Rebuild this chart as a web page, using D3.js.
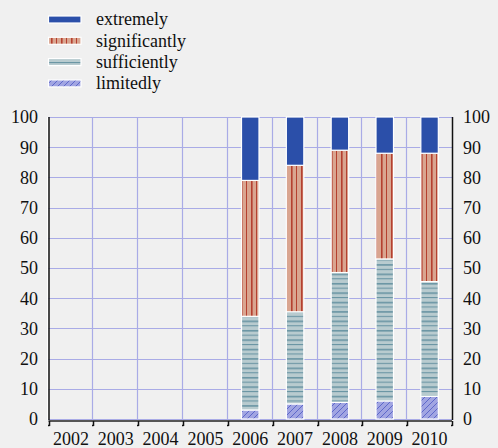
<!DOCTYPE html>
<html><head><meta charset="utf-8">
<script src="https://cdn.jsdelivr.net/npm/d3@7/dist/d3.min.js"></script>
<style>
html,body{margin:0;padding:0;background:#f0f0f0;}
</style></head>
<body><svg id="c" width="498" height="448"></svg>
<script>
const years = ["2002","2003","2004","2005","2006","2007","2008","2009","2010"];
const seriesNames = ["limitedly","sufficiently","significantly","extremely"];
const limitedly     = [0,0,0,0, 3,   5,    5.5, 6,  7.5];
const sufficiently  = [0,0,0,0, 31,  30.5, 43,  47, 38];
const significantly = [0,0,0,0, 45,  48.5, 40.5,35, 42.5];
const extremely     = [0,0,0,0, 21,  16,   11,  12, 12];
const yTicks = [0,10,20,30,40,50,60,70,80,90,100];

(function(){
const svg = d3.select("#c");
const W = 498, H = 448;
const FONT = "'Liberation Serif', Tinos, 'Times New Roman', 'DejaVu Serif', serif";
svg.append("rect").attr("width",W).attr("height",H).attr("fill","#f0f0f0");

const probe = svg.append("text").attr("font-family",FONT).attr("font-size",18).text("2002");
const w18 = probe.node().getComputedTextLength();
probe.remove();
const FS = Math.min(18, 18*36/w18);

const defs = svg.append("defs");
const pSig = defs.append("pattern").attr("id","pSig").attr("patternUnits","userSpaceOnUse").attr("width",10).attr("height",10);
pSig.append("rect").attr("width",10).attr("height",10).attr("fill","#d9a590");
pSig.append("rect").attr("x",1).attr("width",1.6).attr("height",10).attr("fill","#b5402f");
pSig.append("rect").attr("x",6).attr("width",1).attr("height",10).attr("fill","#b5402f");

const pSuf = defs.append("pattern").attr("id","pSuf").attr("patternUnits","userSpaceOnUse").attr("width",10).attr("height",9.4);
pSuf.append("rect").attr("width",10).attr("height",9.4).attr("fill","#b8cbcf");
pSuf.append("rect").attr("y",1).attr("width",10).attr("height",1.5).attr("fill","#6592a1");
pSuf.append("rect").attr("y",5.7).attr("width",10).attr("height",1).attr("fill","#6592a1");

const pLim = defs.append("pattern").attr("id","pLim").attr("patternUnits","userSpaceOnUse").attr("width",6).attr("height",6);
pLim.append("rect").attr("width",6).attr("height",6).attr("fill","#a1a5e2");
pLim.append("path").attr("d","M-1,7 L7,-1 M-1,1 L1,-1 M5,7 L7,5").attr("stroke","#4c58c4").attr("stroke-width",0.8);

const fills = {limitedly:"url(#pLim)", sufficiently:"url(#pSuf)", significantly:"url(#pSig)", extremely:"#2b4fa9"};
const seriesVals = {limitedly, sufficiently, significantly, extremely};

const pL = 48.5, pR = 452, pT = 117, pB = 419;
const x = d3.scaleBand().domain(years).range([pL, pR]).padding(0);
const y = d3.scaleLinear().domain([0,100]).range([pB, pT]);

const grid = svg.append("g");
grid.selectAll("line.h").data(yTicks).join("line")
  .attr("x1",pL).attr("x2",pR).attr("y1",d=>Math.round(y(d))+0.5).attr("y2",d=>Math.round(y(d))+0.5)
  .attr("stroke","#a9abe6").attr("stroke-width",1.2);
grid.selectAll("line.v").data(years.slice(1)).join("line")
  .attr("x1",d=>Math.round(x(d))-0.5).attr("x2",d=>Math.round(x(d))-0.5).attr("y1",pT).attr("y2",pB)
  .attr("stroke","#a9abe6").attr("stroke-width",1.2);

const table = years.map((yr,i)=>{const o={year:yr}; seriesNames.forEach(s=>o[s]=seriesVals[s][i]); return o;});
const stack = d3.stack().keys(seriesNames)(table);
const bw = x.bandwidth()*0.39;
const bars = svg.append("g");
stack.forEach(layer=>{
  bars.selectAll(null).data(layer.filter(d=>d[1]-d[0]>0)).join("rect")
    .attr("x",d=>x(d.data.year)+x.bandwidth()/2-bw/2)
    .attr("width",bw)
    .attr("y",d=>y(d[1]))
    .attr("height",d=>y(d[0])-y(d[1]))
    .attr("fill",fills[layer.key])
    .attr("stroke","#ffffff").attr("stroke-width",1.2);
});

svg.append("line").attr("x1",pL-1).attr("x2",pL-1).attr("y1",pT).attr("y2",pB+1).attr("stroke","#fff").attr("stroke-width",1);
svg.append("line").attr("x1",pL+0.5).attr("x2",pL+0.5).attr("y1",pT).attr("y2",pB+1).attr("stroke","#111").attr("stroke-width",1.5);
svg.append("line").attr("x1",pR+0.5).attr("x2",pR+0.5).attr("y1",pT).attr("y2",pB+1).attr("stroke","#111").attr("stroke-width",1.5);

svg.append("g").selectAll("text").data(yTicks).join("text")
  .attr("x",38).attr("y",d=>y(d)).attr("dy","0.35em").attr("text-anchor","end")
  .attr("font-family",FONT).attr("fill","#111").attr("font-size",FS).text(d=>d);
svg.append("g").selectAll("text").data(yTicks).join("text")
  .attr("x",463).attr("y",d=>y(d)).attr("dy","0.35em").attr("text-anchor","start")
  .attr("font-family",FONT).attr("fill","#111").attr("font-size",FS).text(d=>d);

svg.append("line").attr("x1",pL).attr("x2",pR).attr("y1",421).attr("y2",421).attr("stroke","#555").attr("stroke-width",2);
const tickX = years.map(d=>x(d)).concat([pR]);
svg.append("g").selectAll("path").data(tickX).join("path")
  .attr("d",d=>`M${Math.round(d)+0.5},421 V426 M${Math.round(d)-1},425.5 H${Math.round(d)+0.5}`)
  .attr("stroke","#111").attr("stroke-width",1.5).attr("fill","none");
svg.append("g").selectAll("text").data(years).join("text")
  .attr("x",d=>x(d)+x.bandwidth()/2).attr("y",445).attr("text-anchor","middle")
  .attr("font-family",FONT).attr("fill","#111").attr("font-size",FS).text(d=>d);

const legendOrder = ["extremely","significantly","sufficiently","limitedly"];
const lg = svg.append("g");
legendOrder.forEach((s,i)=>{
  const cy = 19.5 + i*21.3;
  lg.append("rect").attr("x",48.5).attr("y",cy-3.5).attr("width",32.5).attr("height",7)
    .attr("fill",fills[s]).attr("stroke","#fff").attr("stroke-width",1.2);
  lg.append("text").attr("x",96).attr("y",cy).attr("dy","0.32em")
    .attr("font-family",FONT).attr("fill","#111").attr("font-size",FS).text(s);
});
})();
</script></body></html>
